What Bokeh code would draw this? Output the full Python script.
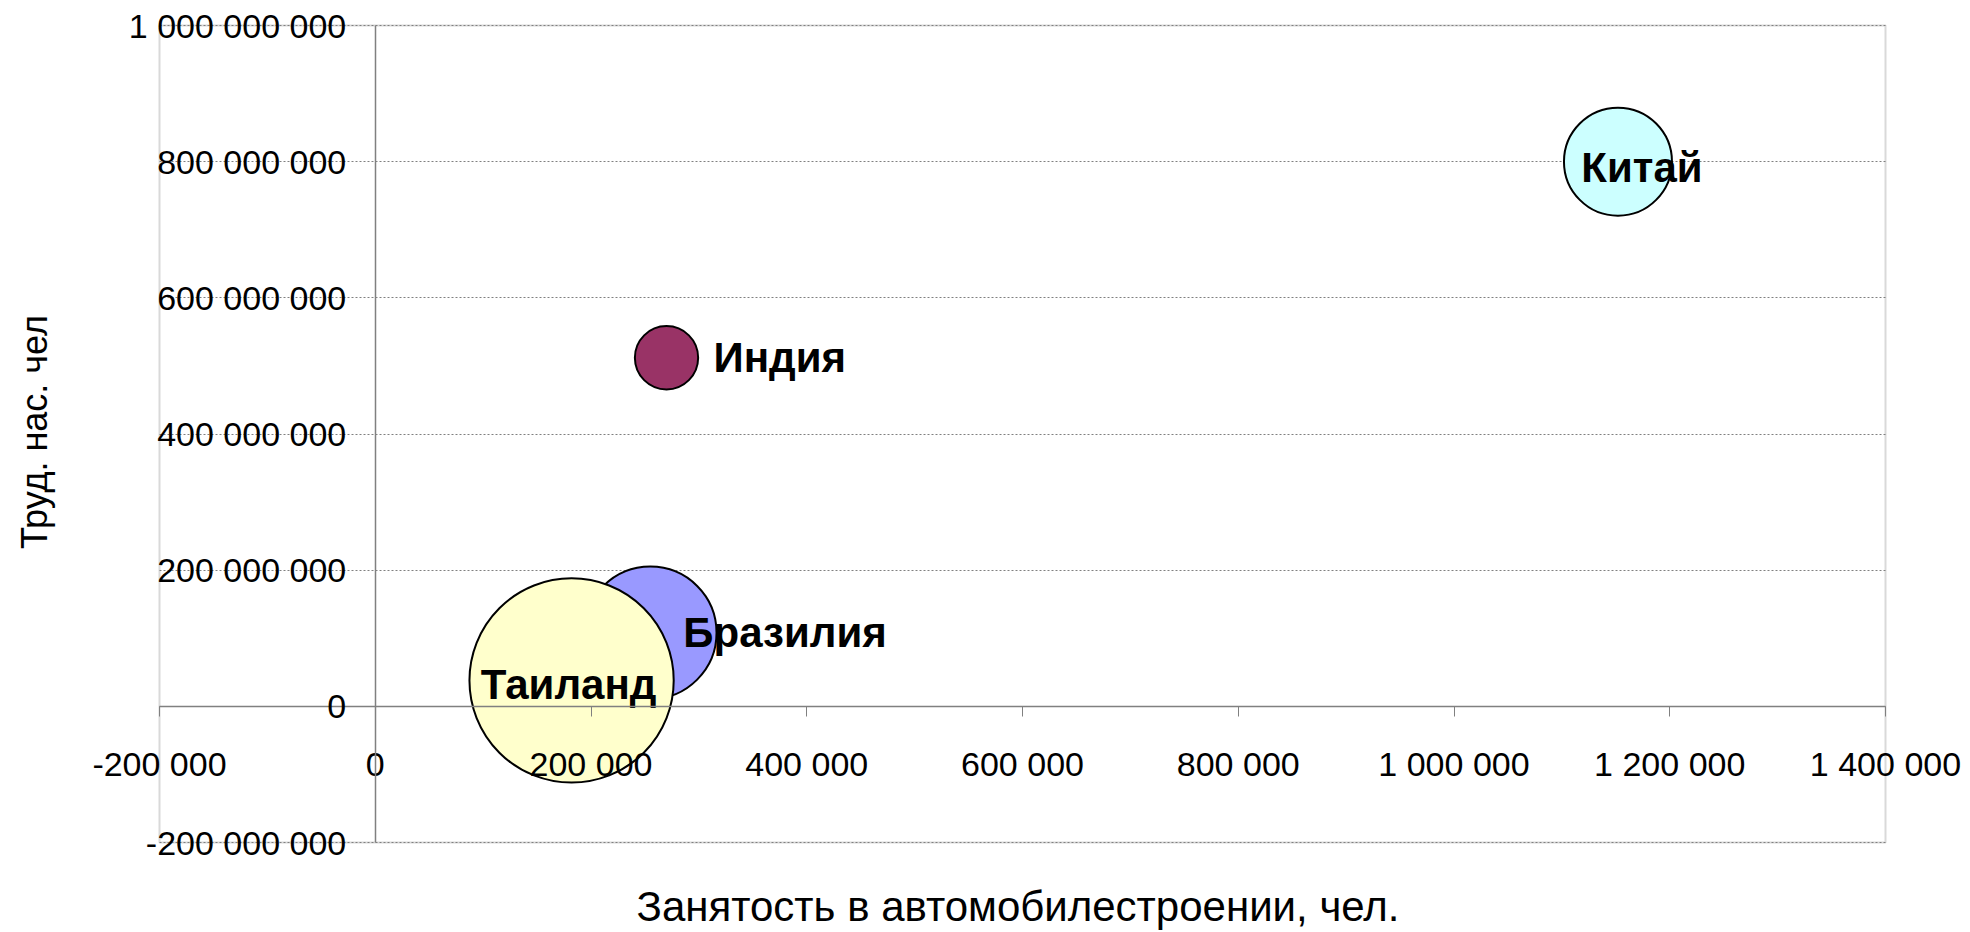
from bokeh.plotting import figure
from bokeh.models import (ColumnDataSource, SingleIntervalTicker, CustomJSTickFormatter,
                          LinearAxis, FixedTicker, Range1d, BoxAnnotation)
from bokeh.core.properties import value
from bokeh.embed import file_html
from bokeh.resources import INLINE
import math

# ---- data ----
countries = ["Китай", "Индия", "Бразилия", "Таиланд"]
employment = [1152000, 270000, 255000, 182000]          # X: занятость в автомобилестроении, чел.
labor_force = [800e6, 512e6, 108e6, 38e6]                # Y: труд. нас., чел
bubble_size = [0.137, 0.047, 0.206, 0.49]                # bubble size value
colors = ["#CCFFFF", "#993366", "#9999FF", "#FFFFCC"]

x_axis_min, x_axis_max, x_tick_step = -200000, 1400000, 200000
y_axis_min, y_axis_max, y_tick_step = -200e6, 1000e6, 200e6

# ---- layout (pixels) ----
W, H = 1970, 932
BOX_L, BOX_R, BOX_T, BOX_B = 159, 1885, 25, 842      # plot-area box on the canvas
FR_L, FR_R, FR_T, FR_B = 65, 1970, 3, 860            # bokeh frame (room for overhanging labels)

ux = (x_axis_max - x_axis_min) / (BOX_R - BOX_L)
uy = (y_axis_max - y_axis_min) / (BOX_B - BOX_T)
x_range = Range1d(x_axis_min - (BOX_L - FR_L) * ux, x_axis_max + (FR_R - BOX_R) * ux)
y_range = Range1d(y_axis_min - (FR_B - BOX_B) * uy, y_axis_max + (BOX_T - FR_T) * uy)

# ---- label style ----
label_align = ["center", "left", "left", "center"]
label_dx = [24, 47, 33, -3]
label_dy = [6, 0, 0, 4]

max_d = 0.25 * (BOX_B - BOX_T)
smax = max(bubble_size)
diam = [max_d * math.sqrt(s / smax) for s in bubble_size]

src = ColumnDataSource(dict(x=employment, y=labor_force, d=diam, c=colors,
                            name=countries, align=label_align, dx=label_dx, dy=label_dy))

p = figure(width=W, height=H, output_backend="svg", toolbar_location=None,
           x_range=x_range, y_range=y_range,
           min_border_left=FR_L, min_border_right=W - FR_R,
           min_border_top=FR_T, min_border_bottom=H - FR_B)
p.background_fill_color = "white"
p.border_fill_color = "white"
p.outline_line_color = None

fmt = CustomJSTickFormatter(code=r"return Math.round(tick).toString().replace(/\B(?=(\d{3})+(?!\d))/g, ' ');")

xa = p.xaxis[0]
xa.fixed_location = 0
xa.bounds = (x_axis_min, x_axis_max)
xa.ticker = SingleIntervalTicker(interval=x_tick_step, num_minor_ticks=0)
xa.formatter = fmt
xa.axis_line_color = "#808080"
xa.axis_line_width = 1.5
xa.major_tick_line_color = "#808080"
xa.major_tick_out = 10
xa.major_tick_in = 0
xa.minor_tick_line_color = None
xa.major_label_standoff = 29
xa.major_label_text_font = "Liberation Sans"
xa.major_label_text_font_size = "34px"
xa.major_label_text_color = "black"

ya = p.yaxis[0]
ya.fixed_location = 0
ya.bounds = (y_axis_min, y_axis_max)
ya.ticker = SingleIntervalTicker(interval=y_tick_step, num_minor_ticks=0)
ya.formatter = fmt
ya.axis_line_color = "#808080"
ya.axis_line_width = 1.5
ya.major_tick_line_color = None
ya.major_tick_out = 0
ya.major_tick_in = 0
ya.minor_tick_line_color = None
ya.major_label_standoff = 29
ya.major_label_text_font = "Liberation Sans"
ya.major_label_text_font_size = "34px"
ya.major_label_text_color = "black"

p.xgrid.visible = False
p.ygrid.bounds = (y_axis_min, y_axis_max)
p.ygrid.cross_bounds = (x_axis_min, x_axis_max)
p.ygrid.grid_line_color = "#808080"
p.ygrid.grid_line_dash = "2 2"
p.ygrid.grid_line_width = 1

# plot-area border
p.add_layout(BoxAnnotation(left=x_axis_min, right=x_axis_max, bottom=y_axis_min, top=y_axis_max,
                           fill_alpha=0, fill_color=None, line_color="#808080", line_width=2,
                           level="underlay"))

# axis titles (title-only axes in the side panels)
xt = LinearAxis(axis_label="Занятость в автомобилестроении, чел.", ticker=FixedTicker(ticks=[]),
                axis_line_color=None, major_tick_line_color=None, minor_tick_line_color=None,
                major_label_text_font_size="0px", major_tick_out=0, major_tick_in=0,
                major_label_standoff=0, axis_label_standoff=22,
                axis_label_text_font="Liberation Sans", axis_label_text_font_size="42px",
                axis_label_text_font_style="normal", axis_label_text_color="black")
p.add_layout(xt, "below")
yt = LinearAxis(axis_label="Труд. нас. чел", ticker=FixedTicker(ticks=[]),
                axis_line_color=None, major_tick_line_color=None, minor_tick_line_color=None,
                major_label_text_font_size="0px", major_tick_out=0, major_tick_in=0,
                major_label_standoff=0, axis_label_standoff=11,
                axis_label_text_font="Liberation Sans", axis_label_text_font_size="36px",
                axis_label_text_font_style="normal", axis_label_text_color="black")
p.add_layout(yt, "left")

p.scatter(x="x", y="y", size="d", fill_color="c", line_color="black", line_width=2,
          source=src)
p.text(x="x", y="y", text="name", x_offset="dx", y_offset="dy", text_align="align",
       text_baseline="middle", text_font=value("Liberation Sans"),
       text_font_style="bold", text_font_size="42px", text_color="black", source=src)

open("out.html", "w").write(file_html(p, INLINE))
